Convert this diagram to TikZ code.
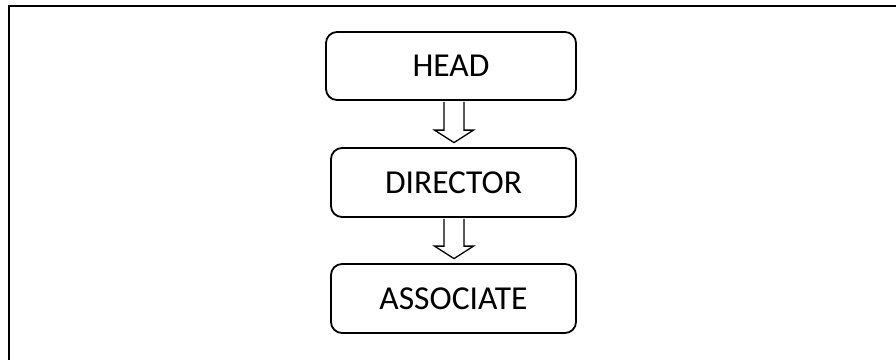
\documentclass[tikz,border=0pt]{standalone}
\usepackage{fontspec}
\setmainfont{Carlito}
\usetikzlibrary{calc}
\begin{document}
\begin{tikzpicture}[x=1pt,y=-1pt,
  rolebox/.style={draw=black, line width=1.8pt, rounded corners=11pt,
    inner sep=0pt, font=\fontsize{33.5}{40}\selectfont},
  downarrow/.style={draw=black, line width=1.3pt, fill=white, line join=miter}]
  \useasboundingbox (0,0) rectangle (896,359);
  % page frame (runs past the right and bottom edges)
  \draw[line width=2pt] (9,6) rectangle (910,375);

  \node[rolebox, minimum width=250pt, minimum height=68pt] (head) at (451,66) {HEAD};
  \node[rolebox, minimum width=245pt, minimum height=69pt] (director) at (453.5,182.5) {DIRECTOR};
  \node[rolebox, minimum width=245pt, minimum height=69pt] (associate) at (453.5,298.5) {ASSOCIATE};

  % hollow block arrow from the bottom of one box to the top of the next
  \newcommand\blockarrow[3]{%
    \draw[downarrow] let \p1=(#1.south), \p2=(#2.north) in
      ($(\x1+#3-10pt,\y1-1pt)$) -- ($(\x1+#3-10pt,\y2+17pt)$)
      -- ($(\x1+#3-19.5pt,\y2+17pt)$) -- ($(\x1+#3,\y2+4.5pt)$)
      -- ($(\x1+#3+19.5pt,\y2+17pt)$) -- ($(\x1+#3+10pt,\y2+17pt)$)
      -- ($(\x1+#3+10pt,\y1-1pt)$);}
  \blockarrow{head}{director}{3pt}
  \blockarrow{director}{associate}{0.5pt}
\end{tikzpicture}
\end{document}
